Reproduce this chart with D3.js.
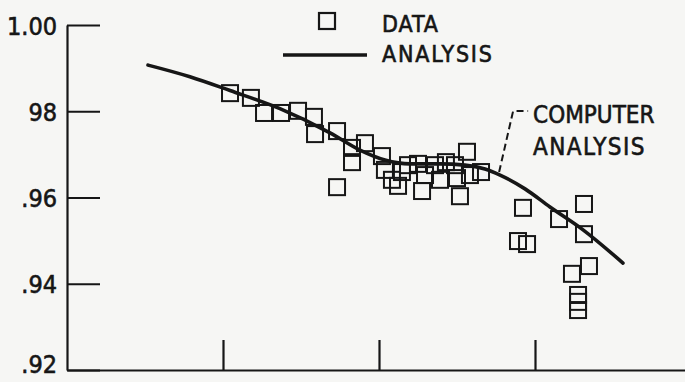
<!DOCTYPE html>
<html>
<head>
<meta charset="utf-8">
<script src="https://cdn.jsdelivr.net/npm/d3@7"></script>
<style>
  html, body { margin: 0; padding: 0; background: #f6f6f4; }
  svg { display: block; }
  text { font-family: "DejaVu Sans Condensed", "Liberation Sans Narrow", sans-serif; fill: #161616; stroke: #161616; stroke-width: 0.6px; }
</style>
</head>
<body>
<div id="chart"></div>
<script>
// data (x has no labels, ticks at 1,2,3)
var dataX = [1.045, 1.179, 1.263, 1.372, 1.481, 1.583, 1.590, 1.731, 1.731, 1.827,
             1.827, 1.910, 2.019, 2.038, 2.083, 2.122, 2.147, 2.186, 2.250, 2.276,
             2.295, 2.359, 2.391, 2.429, 2.487, 2.500, 2.519, 2.564, 2.583, 2.654,
             2.923, 2.891, 2.949, 3.154, 3.314, 3.314, 3.237, 3.346, 3.276, 3.276, 3.276];
var dataY = [0.9842, 0.9831, 0.9796, 0.9796, 0.9801, 0.9787, 0.9747, 0.9754, 0.9624, 0.9715,
             0.9682, 0.9726, 0.9696, 0.9664, 0.9641, 0.9627, 0.9659, 0.9675, 0.9678, 0.9615,
             0.9652, 0.9675, 0.9641, 0.9682, 0.9675, 0.9645, 0.9603, 0.9706, 0.9652, 0.9659,
             0.9576, 0.9499, 0.9492, 0.9550, 0.9585, 0.9515, 0.9423, 0.9441, 0.9374, 0.9358, 0.9339];

var curveX = [0.519, 0.788, 1.045, 1.365, 1.686, 1.878, 2.038, 2.199, 2.391, 2.551,
              2.679, 2.776, 2.936, 3.096, 3.308, 3.564];
var curveY = [0.9907, 0.9880, 0.9848, 0.9806, 0.9750, 0.9710, 0.9687, 0.9678, 0.9678, 0.9675,
              0.9666, 0.9652, 0.9620, 0.9578, 0.9525, 0.9448];

var yTicks = [0.92, 0.94, 0.96, 0.98, 1.00];
var yTickLabels = [".92", ".94", ".96", "98", "1.00"];
var xTicks = [1, 2, 3];

var legendLabels = ["DATA", "ANALYSIS"];
var noteLines = ["COMPUTER", "ANALYSIS"];
var noteAnchor = [2.77, 0.9659];   // where the dashed leader touches the curve

var width = 685, height = 382;
var ink = "#161616";

var svg = d3.select("#chart").append("svg")
    .attr("width", width)
    .attr("height", height);

var x = d3.scaleLinear().domain([0, 4]).range([67, 691]);
var y = d3.scaleLinear().domain([0.92, 1.00]).range([370, 25]);

// x axis: bare ticks pointing up, no labels
var xAxis = svg.append("g")
    .attr("transform", "translate(0," + y(0.92) + ")")
    .call(d3.axisBottom(x).tickValues(xTicks).tickSize(-30).tickSizeOuter(0).tickFormat(""));

// y axis: ticks pointing into the plot
var yAxis = svg.append("g")
    .attr("transform", "translate(" + x(0) + ",0)")
    .call(d3.axisLeft(y).tickValues(yTicks).tickSize(-33).tickSizeOuter(0).tickPadding(10)
        .tickFormat(function(d, i) { return yTickLabels[i]; }));

[xAxis, yAxis].forEach(function(ax) {
    ax.select(".domain").attr("stroke", ink).attr("stroke-width", 2.2);
    ax.selectAll(".tick line").attr("stroke", ink).attr("stroke-width", 2.2);
});
yAxis.selectAll(".tick text")
    .attr("font-size", 25)
    .attr("font-family", null)
    .attr("dy", function(d) { return d === 0.92 ? "0.1em" : "0.36em"; })
    .attr("fill", ink);

// analysis curve
var line = d3.line()
    .x(function(d) { return x(d[0]); })
    .y(function(d) { return y(d[1]); })
    .curve(d3.curveMonotoneX);

svg.append("path")
    .datum(d3.zip(curveX, curveY))
    .attr("d", line)
    .attr("fill", "none")
    .attr("stroke", ink)
    .attr("stroke-width", 3.6)
    .attr("stroke-linecap", "round");

// data squares
var sq = 16;
svg.append("g").selectAll("rect")
    .data(d3.zip(dataX, dataY))
    .join("rect")
    .attr("x", function(d) { return x(d[0]) - sq / 2; })
    .attr("y", function(d) { return y(d[1]) - sq / 2; })
    .attr("width", sq)
    .attr("height", sq)
    .attr("fill", "none")
    .attr("stroke", ink)
    .attr("stroke-width", 2);

// legend
var legend = svg.append("g");
legend.append("rect")
    .attr("x", 319).attr("y", 13).attr("width", 16).attr("height", 16)
    .attr("fill", "none").attr("stroke", ink).attr("stroke-width", 2.2);
legend.append("line")
    .attr("x1", 283).attr("x2", 367).attr("y1", 55).attr("y2", 55)
    .attr("stroke", ink).attr("stroke-width", 3.6);
legend.selectAll("text")
    .data(legendLabels)
    .join("text")
    .attr("x", 382)
    .attr("y", function(d, i) { return 32 + i * 30; })
    .attr("font-size", 23)
    .attr("letter-spacing", function(d, i) { return i === 0 ? 1 : 1.8; })
    .text(function(d) { return d; });

// "computer analysis" note with dashed leader
var ax0 = x(noteAnchor[0]), ay0 = y(noteAnchor[1]);
svg.append("path")
    .attr("d", "M" + ax0 + "," + ay0 + "L" + (ax0 + 14) + "," + (ay0 - 61) + "h15")
    .attr("fill", "none")
    .attr("stroke", ink)
    .attr("stroke-width", 2)
    .attr("stroke-dasharray", "7,4");

svg.append("g").selectAll("text")
    .data(noteLines)
    .join("text")
    .attr("x", ax0 + 34)
    .attr("y", function(d, i) { return ay0 - 49 + i * 32; })
    .attr("font-size", 24)
    .attr("letter-spacing", function(d, i) { return i === 0 ? 0 : 1.4; })
    .text(function(d) { return d; });
</script>
</body>
</html>
